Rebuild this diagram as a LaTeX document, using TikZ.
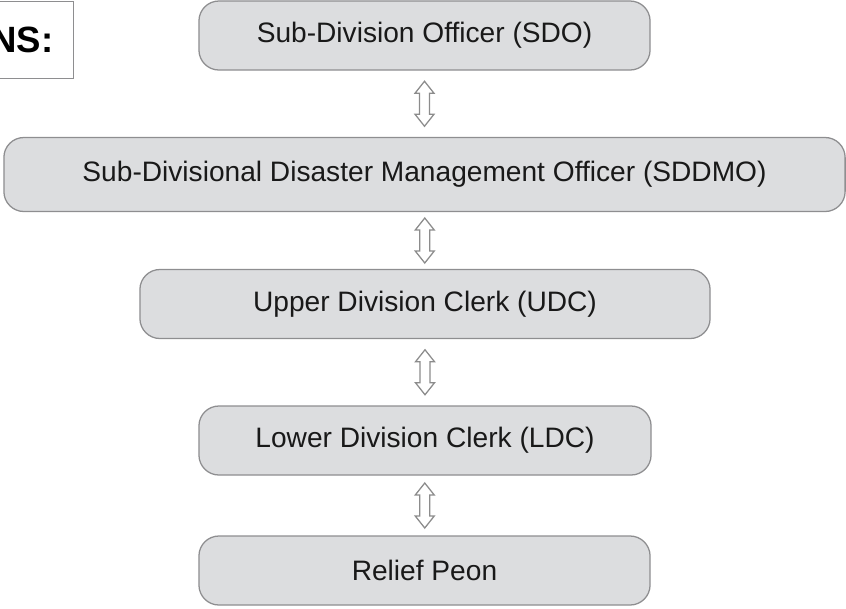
\documentclass[tikz,border=0pt]{standalone}
\usepackage{fontspec}
\setmainfont{Liberation Sans}
\usetikzlibrary{calc}

\definecolor{boxfill}{HTML}{DCDDDF}
\definecolor{boxline}{HTML}{8E8E90}
\definecolor{linkline}{HTML}{8C8C8C}

\tikzset{
  post/.style={draw=boxline, fill=boxfill, line width=0.9pt, rounded corners=0.5cm,
    minimum height=1.725cm, text=black!90, font=\fontsize{20}{24}\selectfont},
  heading/.style={draw=boxline, line width=0.9pt, inner xsep=0.5cm,
    minimum height=1.925cm, font=\fontsize{26}{30}\selectfont\bfseries},
  link/.style={draw=linkline, fill=white, line width=0.9pt, line join=miter},
}

\newcommand{\updown}[2]{%
  \draw[link] ($(#1.south)!0.5!(#2.north)$) ++(0,-22.5) -- ++(9.5,12) -- ++(-4.5,0)
    -- ++(0,21) -- ++(4.5,0) -- ++(-9.5,12) -- ++(-9.5,-12) -- ++(4.5,0)
    -- ++(0,-21) -- ++(-4.5,0) -- cycle;}

\begin{document}
\begin{tikzpicture}[x=0.025cm, y=-0.025cm]
  \useasboundingbox (0,0) rectangle (846,608);
  \node[heading, anchor=north east] (title) at (74,1) {NS:};

  \node[post, minimum width=11.275cm] (sdo) at (424.5,35.5) {Sub-Division Officer (SDO)};
  \node[post, minimum width=21.025cm, minimum height=1.85cm] (sddmo) at (424.5,174.5)
    {Sub-Divisional Disaster Management Officer (SDDMO)};
  \node[post, minimum width=14.25cm] (udc) at (425,304) {Upper Division Clerk (UDC)};
  \node[post, minimum width=11.3cm] (ldc) at (425,440.5) {Lower Division Clerk (LDC)};
  \node[post, minimum width=11.275cm] (peon) at (424.5,570.5) {Relief Peon};

  \updown{sdo}{sddmo}
  \updown{sddmo}{udc}
  \updown{udc}{ldc}
  \updown{ldc}{peon}
\end{tikzpicture}
\end{document}
